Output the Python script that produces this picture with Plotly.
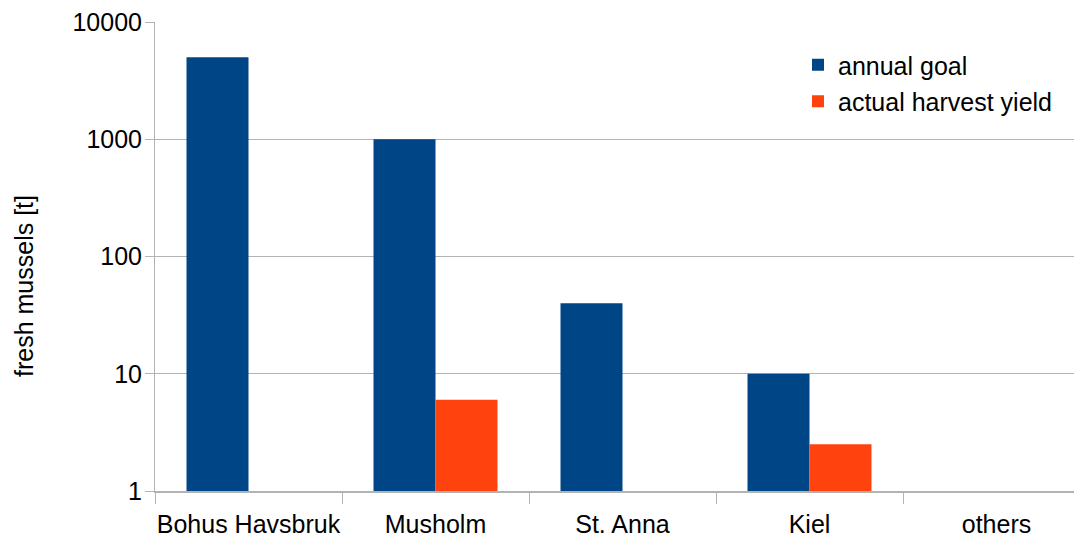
import plotly.graph_objects as go

categories = ["Bohus Havsbruk", "Musholm", "St. Anna", "Kiel", "others"]
annual_goal = [5000, 1000, 40, 10, None]
actual_yield = [None, 6, None, 2.5, None]
y_ticks = [1, 10, 100, 1000, 10000]
y_tick_labels = ["1", "10", "100", "1000", "10000"]

W, H = 1074, 538
L, T, B = 155, 22, 47
plot_w = W - L
plot_h = H - T - B

fig = go.Figure()
fig.add_trace(go.Bar(name="annual goal", x=categories, y=annual_goal,
                     legendgroup="g1",
                     marker=dict(color="#004586", line=dict(width=0))))
fig.add_trace(go.Bar(name="actual harvest yield", x=categories, y=actual_yield,
                     legendgroup="g2",
                     marker=dict(color="#ff420e", line=dict(width=0))))

cat_w = 187.0
xmax = -0.5 + plot_w / cat_w

font_family = "Liberation Sans, Arial, sans-serif"
fig.update_layout(
    width=W, height=H,
    margin=dict(l=L, r=0, t=T, b=B, pad=0, autoexpand=False),
    paper_bgcolor="white", plot_bgcolor="white",
    barmode="group", bargap=0.337, bargroupgap=0,
    font=dict(family=font_family, size=25, color="#000000"),
    showlegend=True,
    legend=dict(x=(798 - L) / plot_w, y=1 - (42 - T) / plot_h,
                xanchor="left", yanchor="top",
                font=dict(size=25), bgcolor="rgba(0,0,0,0)",
                traceorder="grouped", tracegroupgap=1),
    xaxis=dict(type="category", range=[-0.5, xmax], automargin=False,
               showline=True, linecolor="#b3b3b3", linewidth=2,
               ticks="outside", tickson="boundaries", ticklen=11,
               tickcolor="#b3b3b3", tickwidth=1, tickangle=0,
               ticklabelstandoff=10,
               showgrid=False, tickfont=dict(size=25)),
    yaxis=dict(type="log", range=[0, 4], automargin=False,
               tickvals=y_ticks, ticktext=y_tick_labels,
               showline=True, linecolor="#b3b3b3", linewidth=1,
               ticks="outside", ticklen=9, tickcolor="#b3b3b3",
               ticklabelstandoff=-2,
               showgrid=True, gridcolor="#b3b3b3", gridwidth=1,
               zeroline=False, tickfont=dict(size=25)),
    annotations=[dict(text="fresh mussels [t]", xref="paper", yref="paper",
                      x=(24 - L) / plot_w, y=1 - (286 - T) / plot_h,
                      textangle=-90,
                      showarrow=False, xanchor="center", yanchor="middle",
                      font=dict(size=25))],
)

fig.write_html("out.html", config={"displayModeBar": False},
               post_script="document.body.style.margin='0';"
                           "document.body.style.overflow='hidden';")
